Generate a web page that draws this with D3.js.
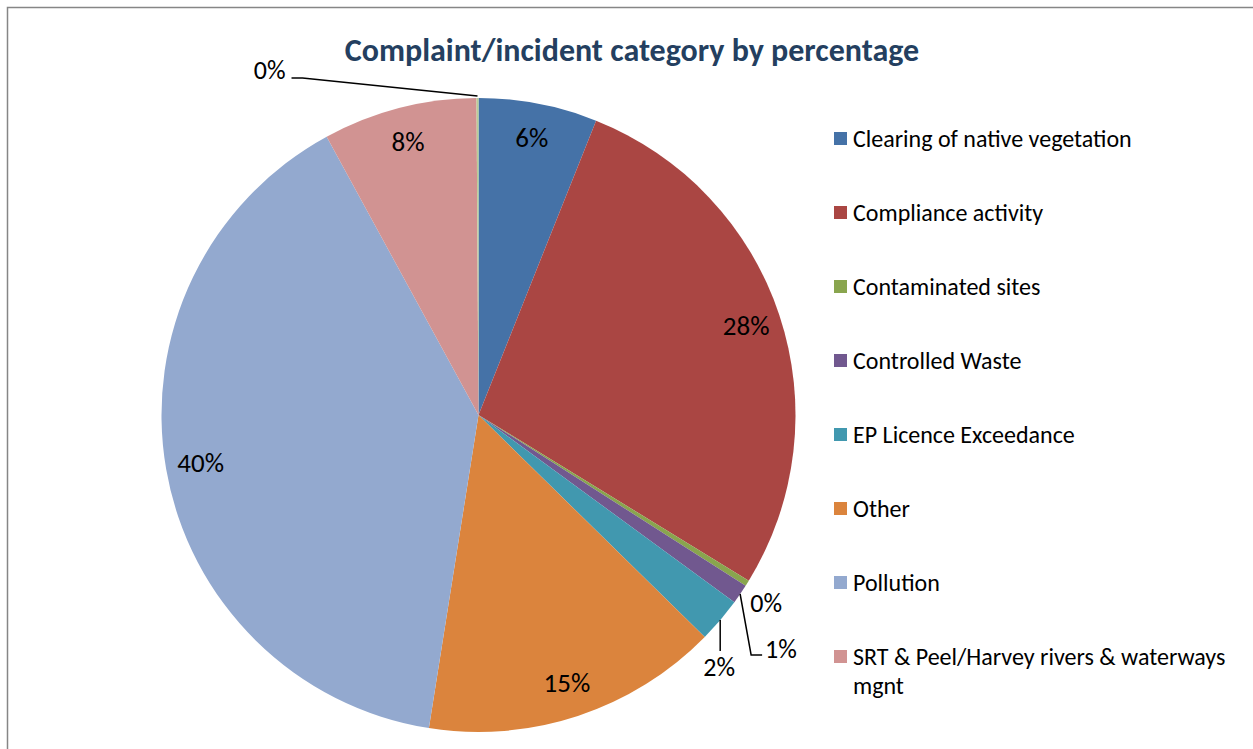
<!DOCTYPE html>
<html>
<head>
<meta charset="utf-8">
<script src="https://cdn.jsdelivr.net/npm/d3@7"></script>
<style>
  html, body { margin: 0; padding: 0; background: #ffffff; }
  svg { display: block; font-family: Carlito, Calibri, Lato, "Open Sans", sans-serif; }
</style>
</head>
<body>
<svg id="chart" width="1253" height="749"></svg>
<script>
// ---- data ----
const title = "Complaint/incident category by percentage";
const categories = [
  "Clearing of native vegetation",
  "Compliance activity",
  "Contaminated sites",
  "Controlled Waste",
  "EP Licence Exceedance",
  "Other",
  "Pollution",
  "SRT & Peel/Harvey rivers & waterways mgnt",
  "(not shown in legend)"
];
const values = [6.05, 27.7, 0.3, 1.0, 2.3, 15.15, 39.55, 7.85, 0.1];
const colors = ["#4572A7", "#AA4643", "#89A54E", "#71588F", "#4198AF", "#DB843D", "#93A9CF", "#D19392", "#B9CD96"];
const legendCount = 8;
const legendLines = [
  ["Clearing of native vegetation"],
  ["Compliance activity"],
  ["Contaminated sites"],
  ["Controlled Waste"],
  ["EP Licence Exceedance"],
  ["Other"],
  ["Pollution"],
  ["SRT & Peel/Harvey rivers & waterways", "mgnt"]
];

// ---- layout ----
const W = 1253, H = 749;
const cx = 478.5, cy = 415, R = 317;
const insideR = 282;
// label placement for small slices, relative to the slice's outer edge point
const outsideLabels = {
  2: { dx: 19, dy: 29, anchor: "middle", line: null },
  3: { dx: 25, dy: 64, anchor: "start", line: [[0, 0], [11, 61], [22, 61]] },
  4: { dx: -1, dy: 56, anchor: "middle", line: [[0, 0], [0, 31]] },
  8: { dx: -192, dy: -19, anchor: "end", line: [[0, -2], [-175, -20], [-186, -20]] }
};

const svg = d3.select("#chart");
svg.append("rect").attr("width", W).attr("height", H).attr("fill", "#ffffff");

// frame
svg.append("path")
  .attr("d", `M7.5,${H} L7.5,7.5 L${W},7.5`)
  .attr("fill", "none").attr("stroke", "#868686").attr("stroke-width", 1.5);

// title
svg.append("text")
  .attr("x", 632).attr("y", 61)
  .attr("text-anchor", "middle")
  .attr("font-size", 32).attr("font-weight", "bold")
  .attr("fill", "#243F60")
  .text(title);

const total = d3.sum(values);
const pie = d3.pie().sort(null).value(d => d)(values);
const arc = d3.arc().innerRadius(0).outerRadius(R);
const labelArc = d3.arc().innerRadius(insideR).outerRadius(insideR);

const g = svg.append("g").attr("transform", `translate(${cx},${cy})`);
g.selectAll("path.slice").data(pie).enter().append("path")
  .attr("class", "slice")
  .attr("d", arc)
  .attr("fill", (d, i) => colors[i]);

const pct = v => Math.round(v / total * 100) + "%";

pie.forEach((d, i) => {
  const text = pct(d.value);
  const mid = (d.startAngle + d.endAngle) / 2;
  if (outsideLabels[i]) {
    const o = outsideLabels[i];
    const px = R * Math.sin(mid), py = -R * Math.cos(mid);
    if (o.line) {
      g.append("path")
        .attr("d", d3.line()(o.line.map(p => [px + p[0], py + p[1]])))
        .attr("fill", "none").attr("stroke", "#000").attr("stroke-width", 1.5);
    }
    g.append("text")
      .attr("x", px + o.dx).attr("y", py + o.dy)
      .attr("text-anchor", o.anchor)
      .attr("font-size", 26).attr("fill", "#000")
      .text(text);
  } else {
    const c = labelArc.centroid(d);
    g.append("text")
      .attr("x", c[0]).attr("y", c[1] + 9)
      .attr("text-anchor", "middle")
      .attr("font-size", 27).attr("fill", "#000")
      .text(text);
  }
});

// legend
const leg = svg.append("g");
for (let i = 0; i < legendCount; i++) {
  const y = 139 + i * 74;
  leg.append("rect")
    .attr("x", 834).attr("y", y - 7).attr("width", 13).attr("height", 13)
    .attr("fill", colors[i]);
  legendLines[i].forEach((ln, j) => {
    leg.append("text")
      .attr("x", 853).attr("y", y + 8 + j * 29)
      .attr("font-size", 24).attr("fill", "#000")
      .text(ln);
  });
}
</script>
</body>
</html>
